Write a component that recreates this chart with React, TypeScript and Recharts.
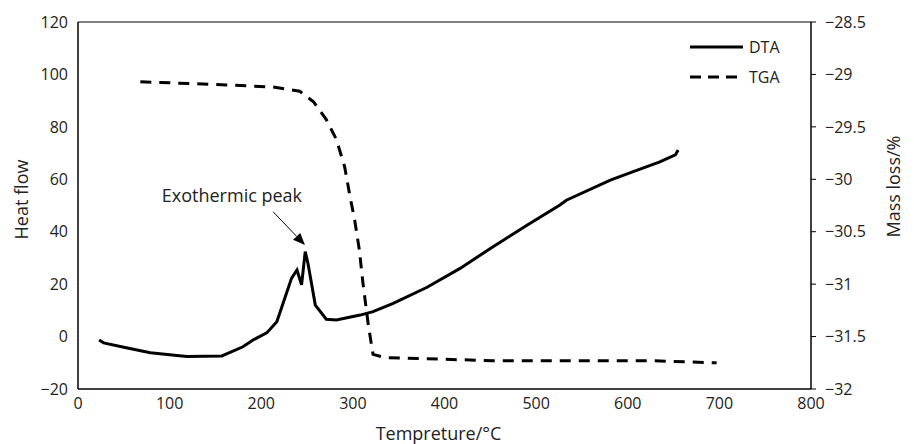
import { Line, LineChart, ReferenceDot, ReferenceLine, XAxis, YAxis } from "recharts";

// DTA curve (heat flow, left axis)
const dtaTemp = [23, 28, 50, 79, 108, 119, 157, 180, 191, 206, 217, 222, 233, 239, 244, 248, 251, 259, 271, 282, 308, 322, 344, 381, 417, 453, 490, 526, 533, 581, 606, 635, 652, 655];
const dtaHeat = [-1.3, -2.4, -4.1, -6.2, -7.2, -7.6, -7.4, -3.9, -1.3, 1.4, 5.7, 10.8, 22.2, 25.4, 19.7, 32.4, 27.9, 12, 6.6, 6.3, 8.2, 9.5, 12.7, 18.8, 26, 34.3, 42.5, 50.2, 52, 59.7, 62.9, 66.6, 69.3, 71.2];

// TGA curve (mass loss, right axis)
const tgaTemp = [68, 162, 213, 242, 257, 271, 282, 291, 297, 302, 307, 311, 317, 322, 335, 453, 624, 697];
const tgaMass = [-29.07, -29.1, -29.12, -29.16, -29.26, -29.43, -29.62, -29.88, -30.17, -30.39, -30.67, -30.99, -31.4, -31.67, -31.7, -31.73, -31.73, -31.75];

const xTicks = [0, 100, 200, 300, 400, 500, 600, 700, 800];
const leftTicks = [-20, 0, 20, 40, 60, 80, 100, 120];
const rightTicks = [-32, -31.5, -31, -30.5, -30, -29.5, -29, -28.5];

const dta = dtaTemp.map((t, i) => ({ t, y: dtaHeat[i] }));
const tga = tgaTemp.map((t, i) => ({ t, y: tgaMass[i] }));

const minus = (v: number) => String(v).replace("-", "\u2212");
const font = "'Open Sans', sans-serif";
const tickStyle = { fontSize: 16, fill: "#222", fontFamily: font };
const labelStyle = { fontSize: 18, fill: "#222", fontFamily: font };

function ArrowShape(props: any) {
  const { x1, y1, x2, y2 } = props;
  const ang = Math.atan2(y2 - y1, x2 - x1);
  const len = 12;
  const w = 5;
  const bx = x2 - len * Math.cos(ang);
  const by = y2 - len * Math.sin(ang);
  const px = -Math.sin(ang) * w;
  const py = Math.cos(ang) * w;
  return (
    <g>
      <line x1={x1} y1={y1} x2={bx} y2={by} stroke="#000" strokeWidth={1} />
      <polygon points={`${x2},${y2} ${bx + px},${by + py} ${bx - px},${by - py}`} fill="#000" />
    </g>
  );
}

function LegendBox() {
  const rows = [
    { name: "DTA", dash: undefined },
    { name: "TGA", dash: "11 7" },
  ];
  return (
    <svg width={110} height={60} style={{ position: "absolute", left: 688, top: 37 }}>
      {rows.map((r, i) => (
        <g key={r.name}>
          <line x1={2} x2={55} y1={10 + i * 30} y2={10 + i * 30} stroke="#000" strokeWidth={3} strokeDasharray={r.dash} />
          <text x={61} y={10 + i * 30} dy="0.35em" fontSize={16} fontFamily={font} fill="#222">
            {r.name}
          </text>
        </g>
      ))}
    </svg>
  );
}

const sideLabel = (text: string, side: "left" | "right") => (props: any) => {
  const vb = props.viewBox;
  const cx = side === "left" ? vb.x + 3 : vb.x + 82;
  const cy = vb.y + vb.height / 2 + (side === "left" ? -6 : -19);
  return (
    <text x={cx} y={cy} transform={`rotate(-90 ${cx} ${cy})`} textAnchor="middle" dominantBaseline="central" style={labelStyle}>
      {text}
    </text>
  );
};

export default function App() {
  return (
    <div style={{ position: "absolute", left: 0, top: 0, width: 914, height: 444, background: "#fff" }}>
      <LineChart width={914} height={444} margin={{ top: 22, right: 33, bottom: 25, left: 18 }}>
        <XAxis
          type="number"
          dataKey="t"
          domain={[0, 800]}
          ticks={xTicks}
          tickLine={false}
          tickSize={0}
          tickMargin={9}
          axisLine={{ stroke: "#000", strokeWidth: 1.5 }}
          tick={tickStyle}
          height={30}
          label={{ value: "Tempreture/°C", position: "insideBottom", offset: -21, dx: -6, style: labelStyle }}
        />
        <YAxis
          yAxisId="left"
          type="number"
          domain={[-20, 120]}
          ticks={leftTicks}
          tickFormatter={minus}
          tickLine={false}
          tickSize={0}
          tickMargin={10}
          axisLine={{ stroke: "#000", strokeWidth: 1.5 }}
          tick={tickStyle}
          width={60}
          label={sideLabel("Heat flow", "left")}
        />
        <YAxis
          yAxisId="right"
          orientation="right"
          type="number"
          domain={[-32, -28.5]}
          ticks={rightTicks}
          tickFormatter={minus}
          tickSize={5}
          tickMargin={9}
          tickLine={{ stroke: "#000" }}
          axisLine={{ stroke: "#000", strokeWidth: 1.5 }}
          tick={tickStyle}
          width={70}
          label={sideLabel("Mass loss/%", "right")}
        />
        <ReferenceLine yAxisId="left" y={120} stroke="#000" strokeWidth={1} />
        <Line yAxisId="left" data={dta} dataKey="y" name="DTA" type="linear" stroke="#000" strokeWidth={3} dot={false} isAnimationActive={false} />
        <Line yAxisId="right" data={tga} dataKey="y" name="TGA" type="linear" stroke="#000" strokeWidth={3} strokeDasharray="11 8" dot={false} isAnimationActive={false} />
        <ReferenceLine
          yAxisId="left"
          segment={[{ x: 213, y: 47.6 }, { x: 247.7, y: 34.9 }]}
          shape={ArrowShape}
        />
        <ReferenceDot
          yAxisId="left"
          x={168}
          y={53.8}
          r={0}
          fill="none"
          stroke="none"
          label={{ value: "Exothermic peak", position: "center", style: labelStyle }}
        />
      </LineChart>
      <LegendBox />
    </div>
  );
}
